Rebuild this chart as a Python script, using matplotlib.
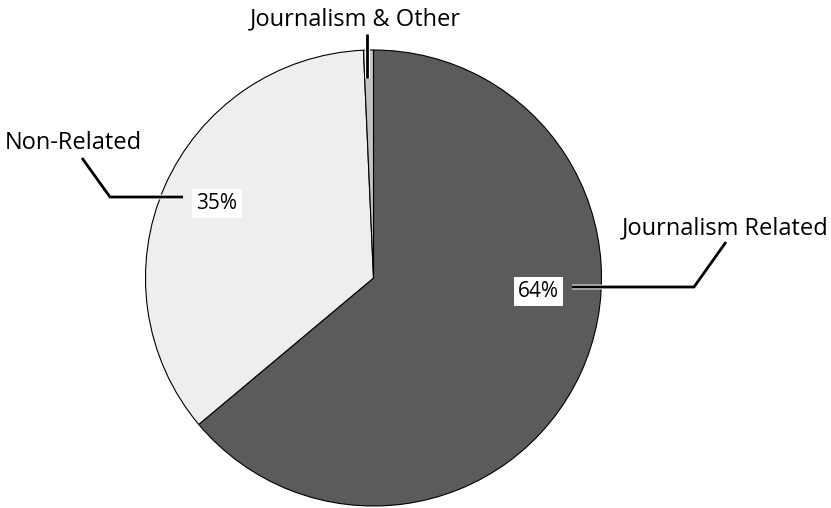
import matplotlib.pyplot as plt
import matplotlib.patheffects as pe

# --- dados ---
labels = ['Journalism Related', 'Non-Related', 'Journalism & Other']
values = [63.9, 35.4, 0.7]
pct_labels = ['64%', '35%', '']
colors = ['#5b5b5b', '#eeeeee', '#c4c4c4']

W, H = 831, 508
fig = plt.figure(figsize=(W / 100, H / 100), dpi=100)
ax = fig.add_axes([0, 0, 1, 1])

# centro e raio em pixels (y para cima)
cx, cy, r = 373.5, H - 278, 228
ax.pie(values, colors=colors, startangle=90, counterclock=False,
       center=(cx, cy), radius=r,
       wedgeprops=dict(edgecolor='black', linewidth=0.8))
ax.set_xlim(0, W)
ax.set_ylim(0, H)
ax.set_aspect('equal')
ax.axis('off')

font = 'Open Sans'
halo = [pe.withStroke(linewidth=3.5, foreground='white')]
box = dict(facecolor='white', edgecolor='none', pad=3)

def leader(pts):
    xs = [p[0] for p in pts]
    ys = [H - p[1] for p in pts]
    ax.plot(xs, ys, color='black', lw=2, solid_capstyle='butt',
            path_effects=halo, zorder=5)

# Journalism Related
leader([(572, 287), (694, 287), (726, 242)])
ax.text(538.5, H - 297, pct_labels[0], fontsize=15, family=font,
        ha='center', va='baseline', zorder=6, bbox=box)
ax.text(725, H - 234, labels[0], fontsize=17, family=font,
        ha='center', va='baseline')

# Non-Related
leader([(183, 197), (110, 197), (82, 158)])
ax.text(217, H - 209, pct_labels[1], fontsize=15, family=font,
        ha='center', va='baseline', zorder=6, bbox=box)
ax.text(73.5, H - 149, labels[1], fontsize=17, family=font,
        ha='center', va='baseline')

# Journalism & Other
leader([(367, 34), (367, 78)])
ax.text(355, H - 25, labels[2], fontsize=17, family=font,
        ha='center', va='baseline')

fig.savefig('out.png', dpi=100)
